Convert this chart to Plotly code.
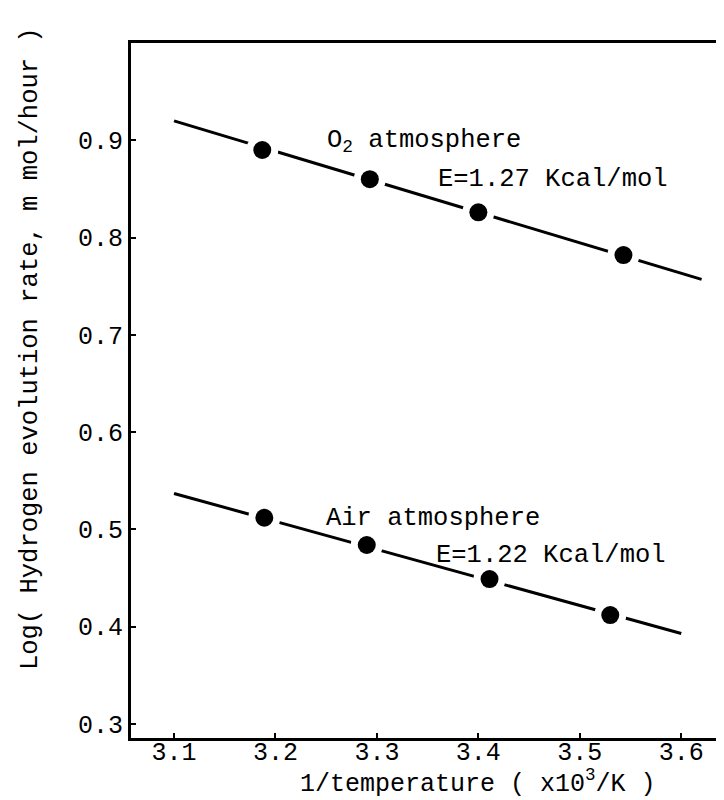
import plotly.graph_objects as go

# Data
o2_x = [3.187, 3.293, 3.400, 3.543]
o2_y = [0.890, 0.860, 0.826, 0.782]
air_x = [3.189, 3.290, 3.411, 3.530]
air_y = [0.512, 0.484, 0.449, 0.412]

# fitted lines (end points)
o2_fit_x = [3.10, 3.62]
o2_fit_y = [0.920, 0.757]
air_fit_x = [3.10, 3.60]
air_fit_y = [0.537, 0.393]

x_ticks = [3.1, 3.2, 3.3, 3.4, 3.5, 3.6]
x_tick_labels = ["3.1", "3.2", "3.3", "3.4", "3.5", "3.6"]
y_ticks = [0.3, 0.4, 0.5, 0.6, 0.7, 0.8, 0.9]
y_tick_labels = ["0.3", "0.4", "0.5", "0.6", "0.7", "0.8", "0.9"]

FONT = "Liberation Mono, Courier New, monospace"

fig = go.Figure()

for fx, fy in [(o2_fit_x, o2_fit_y), (air_fit_x, air_fit_y)]:
    fig.add_trace(go.Scatter(x=fx, y=fy, mode="lines",
                             line=dict(color="black", width=3),
                             showlegend=False, hoverinfo="skip"))

for px, py in [(o2_x, o2_y), (air_x, air_y)]:
    # white halo produces the gaps in the line around each point
    fig.add_trace(go.Scatter(x=px, y=py, mode="markers",
                             marker=dict(color="white", size=32, line=dict(width=0)),
                             showlegend=False, hoverinfo="skip"))
    fig.add_trace(go.Scatter(x=px, y=py, mode="markers",
                             marker=dict(color="black", size=18, line=dict(width=0)),
                             showlegend=False))

ann_font = dict(family=FONT, size=25.5, color="black")
fig.add_annotation(x=3.249, y=0.899, text="O<sub>2</sub> atmosphere", showarrow=False,
                   xanchor="left", yanchor="middle", font=ann_font)
fig.add_annotation(x=3.358, y=0.860, text="E=1.27 Kcal/mol", showarrow=False,
                   xanchor="left", yanchor="middle", font=ann_font)
fig.add_annotation(x=3.248, y=0.511, text="Air atmosphere", showarrow=False,
                   xanchor="left", yanchor="middle", font=ann_font)
fig.add_annotation(x=3.356, y=0.473, text="E=1.22 Kcal/mol", showarrow=False,
                   xanchor="left", yanchor="middle", font=ann_font)

# axis titles
fig.add_annotation(x=3.40, xref="x", y=-0.064, yref="paper",
                   text="1/temperature ( x10<sup>3</sup>/K )", showarrow=False,
                   xanchor="center", yanchor="middle",
                   font=dict(family=FONT, size=25, color="black"))
fig.add_annotation(x=-0.166, xref="paper", y=0.56, yref="paper",
                   text="Log( Hydrogen evolution rate, m mol/hour )", showarrow=False,
                   textangle=-90, xanchor="center", yanchor="middle",
                   font=dict(family=FONT, size=25.5, color="black"))

fig.update_layout(
    width=724, height=800,
    margin=dict(l=123, r=0, t=35, b=70, pad=0),
    paper_bgcolor="white", plot_bgcolor="white",
    showlegend=False,
)
fig.update_xaxes(range=[3.0576, 3.650], tickvals=x_ticks, ticktext=x_tick_labels,
                 ticks="inside", ticklen=5, tickwidth=2, tickcolor="black",
                 ticklabelstandoff=-11,
                 showline=True, linecolor="black", linewidth=3, mirror=True,
                 showgrid=False, zeroline=False,
                 tickfont=dict(family=FONT, size=25, color="black"))
fig.update_yaxes(range=[0.2856, 1.0], tickvals=y_ticks, ticktext=y_tick_labels,
                 ticks="inside", ticklen=5, tickwidth=2, tickcolor="black",
                 showline=True, linecolor="black", linewidth=3, mirror=False,
                 showgrid=False, zeroline=False,
                 tickfont=dict(family=FONT, size=25, color="black"))

fig.write_html("out.html")
